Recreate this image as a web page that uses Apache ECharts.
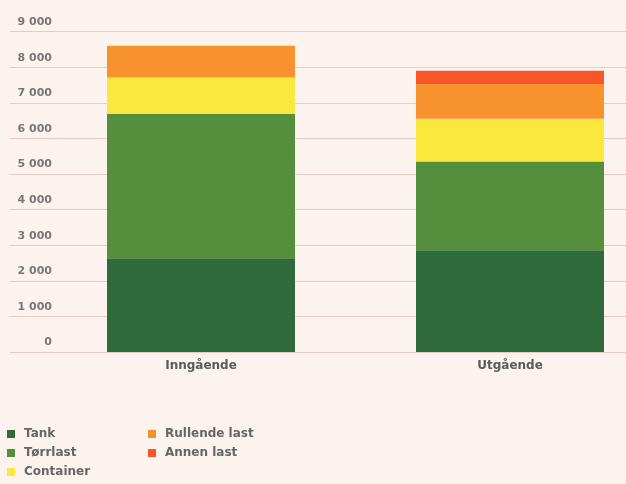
<!DOCTYPE html>
<html><head><meta charset="utf-8">
<script src="https://cdn.jsdelivr.net/npm/echarts@6/dist/echarts.min.js"></script>
<style>html,body{margin:0;padding:0;background:#fcf3ee}#c{width:626px;height:484px}</style>
</head><body><div id="c"></div>
<script>
const categories = ['Inngående', 'Utgående'];
const tank = [2630, 2860];
const torrlast = [4060, 2490];
const container = [1020, 1200];
const rullende = [890, 980];
const annen = [0, 370];
const seriesNames = ['Tank', 'Tørrlast', 'Container', 'Rullende last', 'Annen last'];
const colors = ['#2f6b3a', '#548f3e', '#fbe83c', '#f8922f', '#f6562a'];
const yTicks = [0, 1000, 2000, 3000, 4000, 5000, 6000, 7000, 8000, 9000];

const fmt = v => v >= 1000 ? (Math.floor(v/1000) + ' ' + String(v % 1000).padStart(3, '0')) : String(v);
const font = "'DejaVu Sans','Roboto',sans-serif";
const values = [tank, torrlast, container, rullende, annen];

const chart = echarts.init(document.getElementById('c'));
chart.setOption({
  backgroundColor: '#fcf3ee',
  animation: false,
  grid: [
    {left: 10, right: 0, top: 31.6, bottom: 132, containLabel: false, outerBoundsMode: 'none'},
    {left: 46.5, width: 618, top: 31.6, bottom: 132, containLabel: false, outerBoundsMode: 'none'}
  ],
  xAxis: [
    {type: 'category', gridIndex: 0, data: categories, show: false},
    {type: 'category', gridIndex: 1, data: categories,
     axisLine: {show: false}, axisTick: {show: false},
     axisLabel: {color: '#5a5a5a', fontFamily: font, fontWeight: 'bold', fontSize: 12, margin: 8}}
  ],
  yAxis: [
    {type: 'value', gridIndex: 0, min: 0, max: 9000, interval: 1000,
     axisLine: {show: false}, axisTick: {show: false},
     splitLine: {lineStyle: {color: '#ecc9c2', width: 1}},
     axisLabel: {inside: true, margin: 42, align: 'right', verticalAlign: 'bottom',
       padding: [0, 0, 4, 0], color: '#777', fontFamily: font, fontWeight: 'bold', fontSize: 11,
       formatter: v => yTicks.includes(v) ? fmt(v) : ''}},
    {type: 'value', gridIndex: 1, min: 0, max: 9000, interval: 1000, show: false}
  ],
  legend: [
    {left: 7, top: 428, orient: 'vertical', icon: 'rect', itemWidth: 8, itemHeight: 8, itemGap: 7, padding: 0,
     data: ['Tank', 'Tørrlast', 'Container'],
     textStyle: {color: '#666', fontFamily: font, fontWeight: 'bold', fontSize: 12, padding: [0,0,0,4]}},
    {left: 148, top: 428, orient: 'vertical', icon: 'rect', itemWidth: 8, itemHeight: 8, itemGap: 7, padding: 0,
     data: ['Rullende last', 'Annen last'],
     textStyle: {color: '#666', fontFamily: font, fontWeight: 'bold', fontSize: 12, padding: [0,0,0,4]}}
  ],
  series: seriesNames.map((n, i) => ({
    name: n, type: 'bar', stack: 'total', xAxisIndex: 1, yAxisIndex: 1,
    barWidth: 188, data: values[i], itemStyle: {color: colors[i]}
  }))
});
</script></body></html>
